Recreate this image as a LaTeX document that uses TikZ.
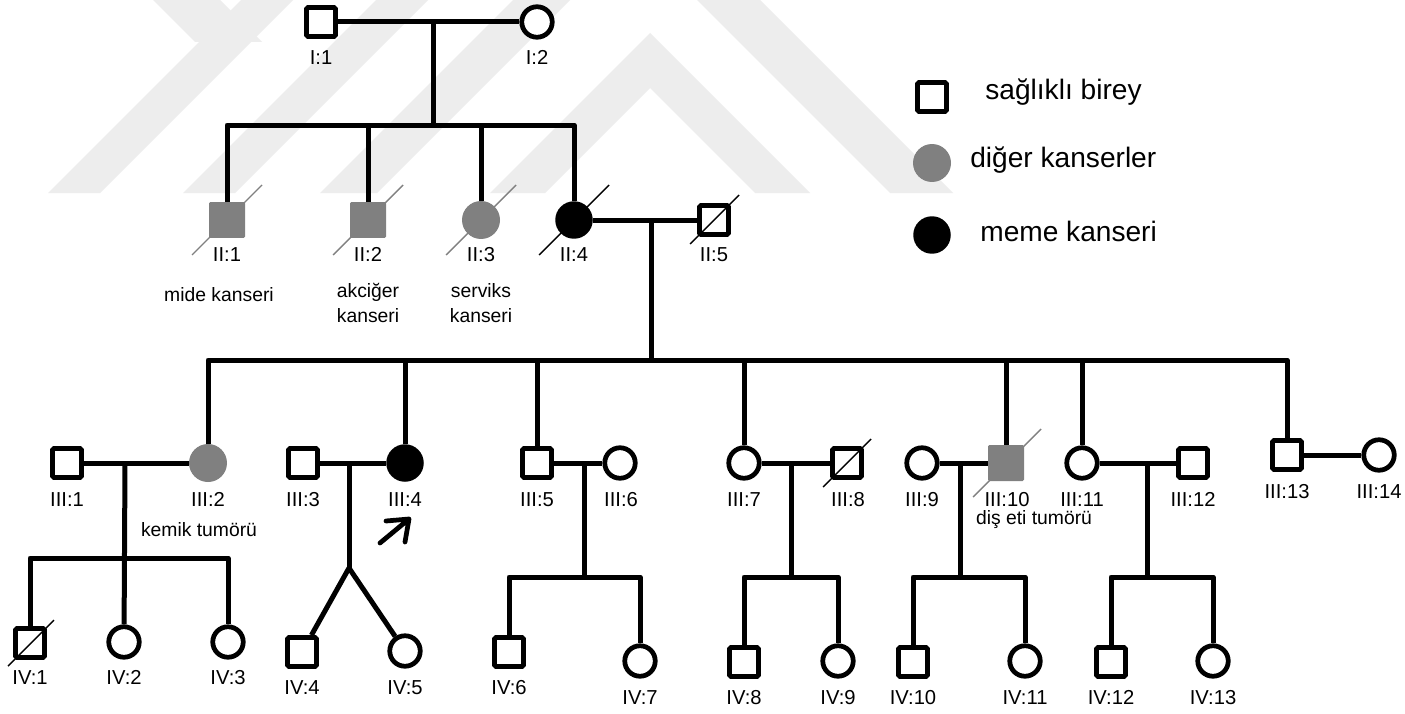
\documentclass[tikz,border=0pt]{standalone}
\usepackage{fontspec}
\setmainfont{Liberation Sans}
\usetikzlibrary{calc}

% one drawing unit = one pixel of a 1405 x 713 canvas, y growing downwards
\tikzset{
  x=0.02cm, y=-0.02cm,
  rel/.style={line width=0.1cm, line join=round},
  male/.style={draw, line width=0.095cm, rectangle, rounded corners=0.8pt,
               minimum size=0.58cm, inner sep=0pt, fill=white},
  female/.style={draw, line width=0.095cm, circle, minimum size=0.61cm,
                 inner sep=0pt, fill=white},
  malegray/.style={rectangle, rounded corners=0.8pt, fill=gray50,
                   minimum size=0.72cm, inner sep=0pt},
  femalegray/.style={circle, fill=gray50, minimum size=0.76cm, inner sep=0pt},
  femaleblack/.style={circle, fill=black, minimum size=0.75cm, inner sep=0pt},
  tag/.style={font=\fontsize{11.5}{12}\selectfont, inner sep=0pt,
              text height=8.3pt, text depth=0pt},
  note/.style={font=\fontsize{11}{14}\selectfont, inner sep=0pt, align=center},
  key/.style={font=\fontsize{16}{18}\selectfont, inner sep=0pt, anchor=west},
  deadgray/.style={draw=gray50, line width=0.8pt},
  deadblack/.style={draw=black, line width=0.8pt}
}
\definecolor{gray50}{HTML}{808080}
\definecolor{wmark}{HTML}{EDEDED}

\begin{document}
\begin{tikzpicture}
\useasboundingbox[fill=white] (0,0) rectangle (1405,713);

% faint background emblem
\begin{scope}[fill=wmark]
  \fill (48,193) -- (100,193) -- (293,0) -- (241,0) -- cycle;
  \fill (153,0) -- (220,0) -- (262,42) -- (195,42) -- cycle;
  \fill (183,193) -- (235,193) -- (428,0) -- (376,0) -- cycle;
  \fill (320,193) -- (377,193) -- (570,0) -- (513,0) -- cycle;
  \fill (697,0) -- (760,0) -- (953,193) -- (890,193) -- cycle;
  \fill (490,193) -- (650,33) -- (810,193) -- (755,193) -- (650,88) -- (545,193) -- cycle;
\end{scope}

% ---------------- generation I ----------------
\node[male]   (i1) at (321,22) {};
\node[female] (i2) at (537,22) {};
\node[tag] (t-i1) at (321,57) {I:1};
\node[tag] (t-i2) at (537,57) {I:2};
\coordinate (m1) at (433,22);
\coordinate (s1) at (433,125);
\draw[rel] (i1) -- (i2);
\draw[rel] (m1) -- (s1);

% ---------------- generation II ----------------
\node[malegray]    (ii1) at (227,220) {};
\node[malegray]    (ii2) at (368,220) {};
\node[femalegray]  (ii3) at (481,220) {};
\node[femaleblack] (ii4) at (574,220) {};
\node[male]        (ii5) at (714,220) {};
\draw[deadgray]  (192,255) -- (262,185);
\draw[deadgray]  (333,255) -- (403,185);
\draw[deadgray]  (446,255) -- (516,185);
\draw[deadblack] (539,255) -- (609,185);
\draw[deadblack] (690,244) -- (739,195);
\draw[rel] (ii1) |- (s1) -| (ii4);
\draw[rel] (ii2) -- (ii2 |- s1);
\draw[rel] (ii3) -- (ii3 |- s1);
\node[tag] (t-ii1) at (227,254) {II:1};
\node[tag] (t-ii2) at (368,254) {II:2};
\node[tag] (t-ii3) at (481,254) {II:3};
\node[tag] (t-ii4) at (574,254) {II:4};
\node[tag] (t-ii5) at (714,254) {II:5};
\node[note] (n-ii1) at (219,295) {mide kanseri};
\node[note] (n-ii2) at (368,303) {akciğer\\kanseri};
\node[note] (n-ii3) at (481,303) {serviks\\kanseri};
\coordinate (m2) at (651,220);
\coordinate (s2) at (651,360);
\draw[rel] (ii4) -- (ii5);
\draw[rel] (m2) -- (s2);

% ---------------- generation III ----------------
\node[male]        (iii1)  at (67,463) {};
\node[femalegray]  (iii2)  at (208,463) {};
\node[male]        (iii3)  at (303,463) {};
\node[femaleblack] (iii4)  at (405,463) {};
\node[male]        (iii5)  at (537,463) {};
\node[female]      (iii6)  at (620,463) {};
\node[female]      (iii7)  at (744,463) {};
\node[male]        (iii8)  at (847,463) {};
\node[female]      (iii9)  at (922,463) {};
\node[malegray]    (iii10) at (1006,463) {};
\node[female]      (iii11) at (1082,463) {};
\node[male]        (iii12) at (1193,463) {};
\node[male]        (iii13) at (1287,455) {};
\node[female]      (iii14) at (1379,455) {};
\draw[deadblack] (823,487) -- (871,439);
\draw[deadgray]  (973,497) -- (1041,429);

\draw[rel] (iii2) |- (s2) -| (iii13);
\foreach \k in {iii4,iii5,iii7,iii10,iii11}
  \draw[rel] (\k) -- (\k |- s2);

\node[tag] (t-iii1)  at (67,499)   {III:1};
\node[tag] (t-iii2)  at (208,499)  {III:2};
\node[tag] (t-iii3)  at (303,499)  {III:3};
\node[tag] (t-iii4)  at (405,499)  {III:4};
\node[tag] (t-iii5)  at (537,499)  {III:5};
\node[tag] (t-iii6)  at (621,499)  {III:6};
\node[tag] (t-iii7)  at (744,499)  {III:7};
\node[tag] (t-iii8)  at (848,499)  {III:8};
\node[tag] (t-iii9)  at (922,499)  {III:9};
\node[tag] (t-iii10) at (1007,499) {III:10};
\node[tag] (t-iii11) at (1082,499) {III:11};
\node[tag] (t-iii12) at (1193,499) {III:12};
\node[tag] (t-iii13) at (1287,491) {III:13};
\node[tag] (t-iii14) at (1379,491) {III:14};
\node[note] (n-iii2)  at (199,530)  {kemik tumörü};
\node[note] (n-iii10) at (1034,520) {diş eti tumörü};

% proband arrow
\coordinate (pa-tail) at (380,543);
\coordinate (pa-tip)  at (409,519);
\draw[line width=0.095cm, line cap=round, line join=round]
  (pa-tail) -- (pa-tip) (386,521) -- (pa-tip) -- (405,542);

% couples of generation III
\draw[rel] (iii1) -- (iii2);
\draw[rel] (iii3) -- (iii4);
\draw[rel] (iii5) -- (iii6);
\draw[rel] (iii7) -- (iii8);
\draw[rel] (iii9) -- (iii10);
\draw[rel] (iii11) -- (iii12);
\draw[rel] (iii13) -- (iii14);

% ---------------- generation IV ----------------
\node[male]   (iv1)  at (30,643)  {};
\node[female] (iv2)  at (124,642) {};
\node[female] (iv3)  at (228,642) {};
\node[male]   (iv4)  at (302,652) {};
\node[female] (iv5)  at (405,651) {};
\node[male]   (iv6)  at (509,652) {};
\node[female] (iv7)  at (640,661) {};
\node[male]   (iv8)  at (744,662) {};
\node[female] (iv9)  at (838,661) {};
\node[male]   (iv10) at (913,662) {};
\node[female] (iv11) at (1025,661) {};
\node[male]   (iv12) at (1111,662) {};
\node[female] (iv13) at (1213,661) {};
\draw[deadblack] (8,666) -- (54,620);

\node[tag] (t-iv1)  at (30,677)   {IV:1};
\node[tag] (t-iv2)  at (124,677)  {IV:2};
\node[tag] (t-iv3)  at (228,677)  {IV:3};
\node[tag] (t-iv4)  at (302,687)  {IV:4};
\node[tag] (t-iv5)  at (405,687)  {IV:5};
\node[tag] (t-iv6)  at (509,687)  {IV:6};
\node[tag] (t-iv7)  at (640,697)  {IV:7};
\node[tag] (t-iv8)  at (744,697)  {IV:8};
\node[tag] (t-iv9)  at (838,697)  {IV:9};
\node[tag] (t-iv10) at (913,697)  {IV:10};
\node[tag] (t-iv11) at (1025,697) {IV:11};
\node[tag] (t-iv12) at (1111,697) {IV:12};
\node[tag] (t-iv13) at (1213,697) {IV:13};

% III:1 x III:2
\coordinate (m31) at (125,463);
\coordinate (s31) at (125,558);
\draw[rel] (m31) -- (iv2);
\draw[rel] (iv1) |- (s31) -| (iv3);

% III:3 x III:4, twins
\coordinate (m32) at (349,463);
\coordinate (tw)  at (349,568);
\draw[rel] (m32) -- (tw);
\draw[rel] (tw) -- (iv4);
\draw[rel] (tw) -- (iv5);

% III:5 x III:6
\coordinate (m33) at (584,463);
\coordinate (s33) at (584,577);
\draw[rel] (m33) -- (s33);
\draw[rel] (iv6) |- (s33) -| (iv7);

% III:7 x III:8
\coordinate (m34) at (791,463);
\coordinate (s34) at (791,577);
\draw[rel] (m34) -- (s34);
\draw[rel] (iv8) |- (s34) -| (iv9);

% III:9 x III:10
\coordinate (m35) at (960,463);
\coordinate (s35) at (960,577);
\draw[rel] (m35) -- (s35);
\draw[rel] (iv10) |- (s35) -| (iv11);

% III:11 x III:12
\coordinate (m36) at (1147,463);
\coordinate (s36) at (1147,577);
\draw[rel] (m36) -- (s36);
\draw[rel] (iv12) |- (s36) -| (iv13);

% ---------------- key ----------------
\node[male]        (k1) at (932,97)  {};
\node[femalegray]  (k2) at (932,163) {};
\node[femaleblack] (k3) at (932,235) {};
\node[key] (k1t) at (985,92)  {sağlıklı birey};
\node[key] (k2t) at (970,160) {diğer kanserler};
\node[key] (k3t) at (980,231) {meme kanseri};
\end{tikzpicture}
\end{document}
